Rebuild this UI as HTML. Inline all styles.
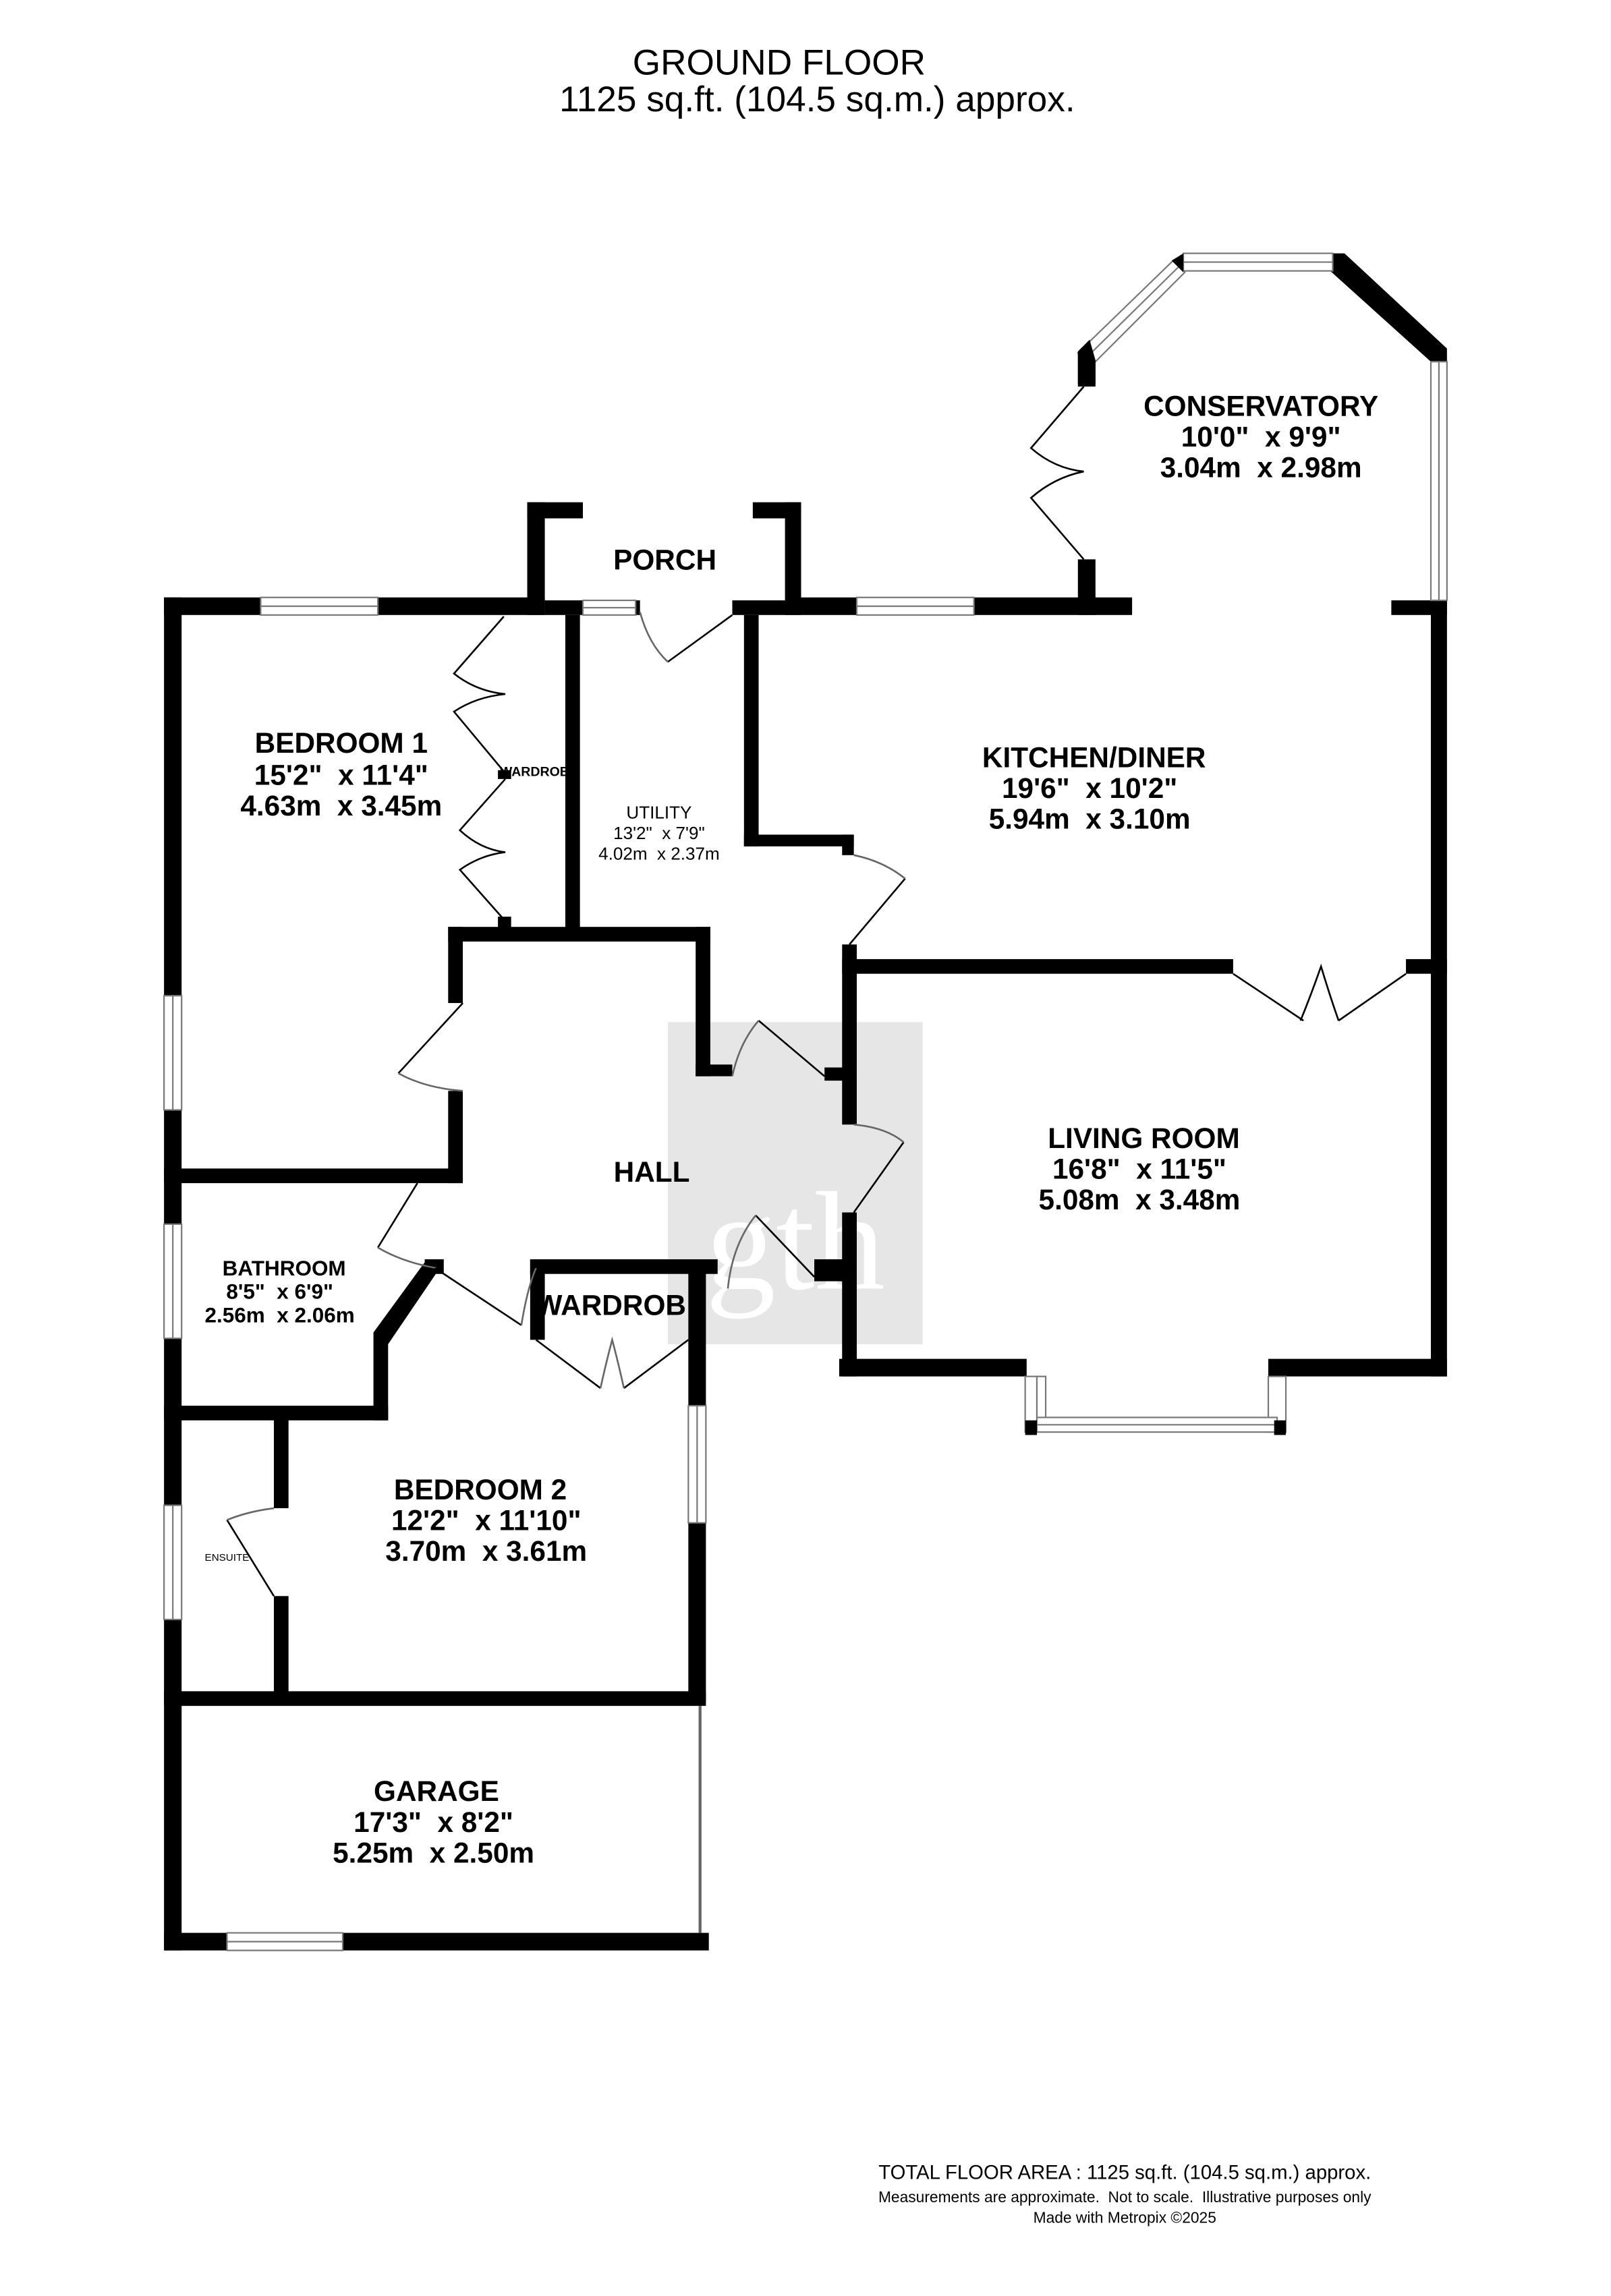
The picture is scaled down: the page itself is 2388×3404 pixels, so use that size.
<!DOCTYPE html>
<html><head><meta charset="utf-8"><style>
html,body{margin:0;padding:0;background:#fff;}
svg{display:block;}
text{font-family:"Liberation Sans",sans-serif;fill:#000;white-space:pre;}
.b{font-weight:bold;}
</style></head><body>
<svg width="2388" height="3404" viewBox="0 0 1100 1568" preserveAspectRatio="none" xmlns="http://www.w3.org/2000/svg" xml:space="preserve">
<rect width="1100" height="1568" fill="#fff"/>
<rect x="456" y="698" width="174" height="220" fill="#e6e6e6"/>
<text x="543" y="880" text-anchor="middle" style="font-family:'Liberation Serif',serif;font-size:96px;fill:#fff">gth</text>

<g fill="#000">
<rect x="112" y="408" width="260" height="12"/>
<rect x="112" y="408" width="12" height="924"/>
<rect x="360" y="343" width="12" height="77"/>
<rect x="360" y="343" width="38" height="11"/>
<rect x="514" y="343" width="33" height="11"/>
<rect x="536" y="343" width="11" height="77"/>
<rect x="372" y="410" width="26" height="10"/>
<rect x="500" y="410" width="47" height="10"/>
<rect x="434" y="410" width="3" height="10"/>
<rect x="547" y="408" width="226" height="12"/>
<rect x="736" y="240" width="12" height="24"/>
<rect x="736" y="382" width="12" height="38"/>
<rect x="950" y="410" width="38" height="10"/>
<rect x="977" y="410" width="11" height="530"/>
<polygon points="910,173 918,173 988,238 988,247 977,247 906,183"/>
<rect x="386" y="420" width="10" height="220"/>
<rect x="340" y="526" width="9" height="6"/>
<rect x="340" y="626" width="9" height="10"/>
<rect x="508" y="420" width="10" height="158"/>
<rect x="508" y="570" width="75" height="8"/>
<rect x="575" y="570" width="8" height="14"/>
<rect x="575" y="655" width="267" height="10"/>
<rect x="960" y="655" width="28" height="10"/>
<rect x="575" y="645" width="10" height="123"/>
<rect x="563" y="729" width="22" height="9"/>
<rect x="575" y="828" width="10" height="112"/>
<rect x="556" y="860" width="29" height="15"/>
<rect x="573" y="928" width="128" height="12"/>
<rect x="866" y="928" width="122" height="12"/>
<rect x="306" y="633" width="179" height="10"/>
<rect x="306" y="633" width="10" height="52"/>
<rect x="306" y="745" width="10" height="63"/>
<rect x="112" y="798" width="204" height="10"/>
<rect x="475" y="633" width="10" height="102"/>
<rect x="475" y="727" width="25" height="8"/>
<rect x="112" y="960" width="153" height="10"/>
<rect x="255" y="910" width="10" height="60"/>
<polygon points="255,910 290,862 303,862 265,918"/>
<rect x="290" y="860" width="13" height="10"/>
<rect x="362" y="860" width="128" height="10"/>
<rect x="362" y="860" width="10" height="55"/>
<rect x="470" y="860" width="12" height="100"/>
<rect x="470" y="1040" width="12" height="122"/>
<rect x="187" y="965" width="10" height="65"/>
<rect x="187" y="1090" width="10" height="72"/>
<rect x="112" y="1155" width="370" height="10"/>
<rect x="112" y="1320" width="43" height="12"/>
<rect x="234" y="1320" width="250" height="12"/>
</g>
<rect x="477" y="1165" width="2" height="155" fill="#666"/>

<g fill="#fff" stroke="#777" stroke-width="1">
<rect x="178" y="408" width="80" height="12"/><line x1="178" y1="414" x2="258" y2="414"/>
<rect x="398" y="410" width="36" height="10"/><line x1="398" y1="415" x2="434" y2="415"/>
<rect x="585" y="408" width="80" height="12"/><line x1="585" y1="414" x2="665" y2="414"/>
<rect x="808" y="173" width="102" height="12"/><line x1="808" y1="179" x2="910" y2="179"/>
<rect x="977" y="247" width="11" height="163"/><line x1="982.5" y1="247" x2="982.5" y2="410"/>
<rect x="112" y="680" width="12" height="78"/><line x1="118" y1="680" x2="118" y2="758"/>
<rect x="112" y="836" width="12" height="78"/><line x1="118" y1="836" x2="118" y2="914"/>
<rect x="112" y="1028" width="12" height="78"/><line x1="118" y1="1028" x2="118" y2="1106"/>
<rect x="470" y="960" width="12" height="80"/><line x1="476" y1="960" x2="476" y2="1040"/>
<rect x="155" y="1320" width="79" height="12"/><line x1="155" y1="1326" x2="234" y2="1326"/>
<rect x="700" y="940" width="8" height="38"/><rect x="708" y="940" width="6" height="30"/>
<rect x="866" y="940" width="12" height="38"/>
<rect x="708" y="968" width="164" height="10"/><line x1="708" y1="973" x2="872" y2="973"/>
<polygon points="736,241 801,178 809,186 744,251"/>
<line x1="740" y1="246" x2="805" y2="182"/>
</g>
<g fill="#000">
<polygon points="736,240 744,232 748,246 748,262 736,262"/>
<polygon points="800,178 808,173 808,186"/>
<rect x="700" y="970" width="8" height="10"/><rect x="870" y="970" width="8" height="10"/></g>

<g fill="none" stroke="#000" stroke-width="1.2">
<path d="M500,420 L456,452"/><path d="M437,418 Q443,440 456,452" stroke="#666"/>
<path d="M344,421 L310,460 Q325,472 345,474 Q325,476 310,486 L345,528"/>
<path d="M345,532 L314,567 Q328,580 345,582 Q328,584 314,594 L345,629"/>
<path d="M740,264 L704,306 Q720,320 740,322 Q720,326 704,340 L740,382"/>
<path d="M618,600 L580,645"/><path d="M583,584 Q603,588 618,600" stroke="#666"/>
<path d="M842,665 L890,697 M888,697 Q895,680 902,660 Q908,680 914,697 M914,697 L960,665"/>
<path d="M316,685 L272,733"/><path d="M272,733 Q290,743 316,745" stroke="#666"/>
<path d="M563,735 L518,697"/><path d="M518,697 Q505,712 500,735" stroke="#666"/>
<path d="M617,780 L583,828"/><path d="M583,768 Q605,770 617,780" stroke="#666"/>
<path d="M556,872 L516,830"/><path d="M516,830 Q500,850 497,880" stroke="#666"/>
<path d="M285,808 L258,852"/><path d="M258,852 Q275,862 298,866" stroke="#666"/>
<path d="M297,866 L356,905"/><path d="M356,905 Q360,880 366,866" stroke="#666"/>
<path d="M366,915 L410,948 M426,948 L470,915"/><path d="M410,948 Q414,930 418,915 Q422,930 426,948" stroke="#666"/>
<path d="M187,1090 L155,1038"/><path d="M155,1038 Q170,1032 187,1030" stroke="#666"/>
</g>

<text x="532" y="51" text-anchor="middle" font-size="24.5">GROUND FLOOR</text>
<text x="558" y="76" text-anchor="middle" font-size="24.5">1125 sq.ft. (104.5 sq.m.) approx.</text>
<g class="b" font-size="19.5" text-anchor="middle">
<text x="861" y="284">CONSERVATORY</text><text x="861" y="305">10'0"  x 9'9"</text><text x="861" y="326">3.04m  x 2.98m</text>
<text x="454" y="389">PORCH</text>
<text x="233" y="514">BEDROOM 1</text><text x="233" y="536">15'2"  x 11'4"</text><text x="233" y="557">4.63m  x 3.45m</text>
<text x="747" y="524">KITCHEN/DINER</text><text x="744" y="545">19'6"  x 10'2"</text><text x="744" y="566">5.94m  x 3.10m</text>
<text x="445" y="807">HALL</text>
<text x="781" y="784">LIVING ROOM</text><text x="778" y="805">16'8"  x 11'5"</text><text x="778" y="826">5.08m  x 3.48m</text>
<text x="417" y="898">WARDROB</text>
<text x="328" y="1024">BEDROOM 2</text><text x="332" y="1045">12'2"  x 11'10"</text><text x="332" y="1066">3.70m  x 3.61m</text>
<text x="298" y="1230">GARAGE</text><text x="296" y="1251">17'3"  x 8'2"</text><text x="296" y="1272">5.25m  x 2.50m</text>
</g>
<g class="b" font-size="14.5" text-anchor="middle">
<text x="194" y="871">BATHROOM</text><text x="191" y="887">8'5"  x 6'9"</text><text x="191" y="903">2.56m  x 2.06m</text>
</g>
<g font-size="12" text-anchor="middle">
<text x="450" y="559">UTILITY</text><text x="450" y="573">13'2"  x 7'9"</text><text x="450" y="587">4.02m  x 2.37m</text>
</g>
<text x="365" y="530" font-size="9" text-anchor="middle" class="b">WARDROB</text>
<text x="155" y="1066" font-size="7" text-anchor="middle">ENSUITE</text>
<text x="768" y="1488" font-size="13.5" text-anchor="middle">TOTAL FLOOR AREA : 1125 sq.ft. (104.5 sq.m.) approx.</text>
<text x="768" y="1504" font-size="10.5" text-anchor="middle">Measurements are approximate.  Not to scale.  Illustrative purposes only</text>
<text x="768" y="1518" font-size="10.5" text-anchor="middle">Made with Metropix ©2025</text>
</svg>
</body></html>
